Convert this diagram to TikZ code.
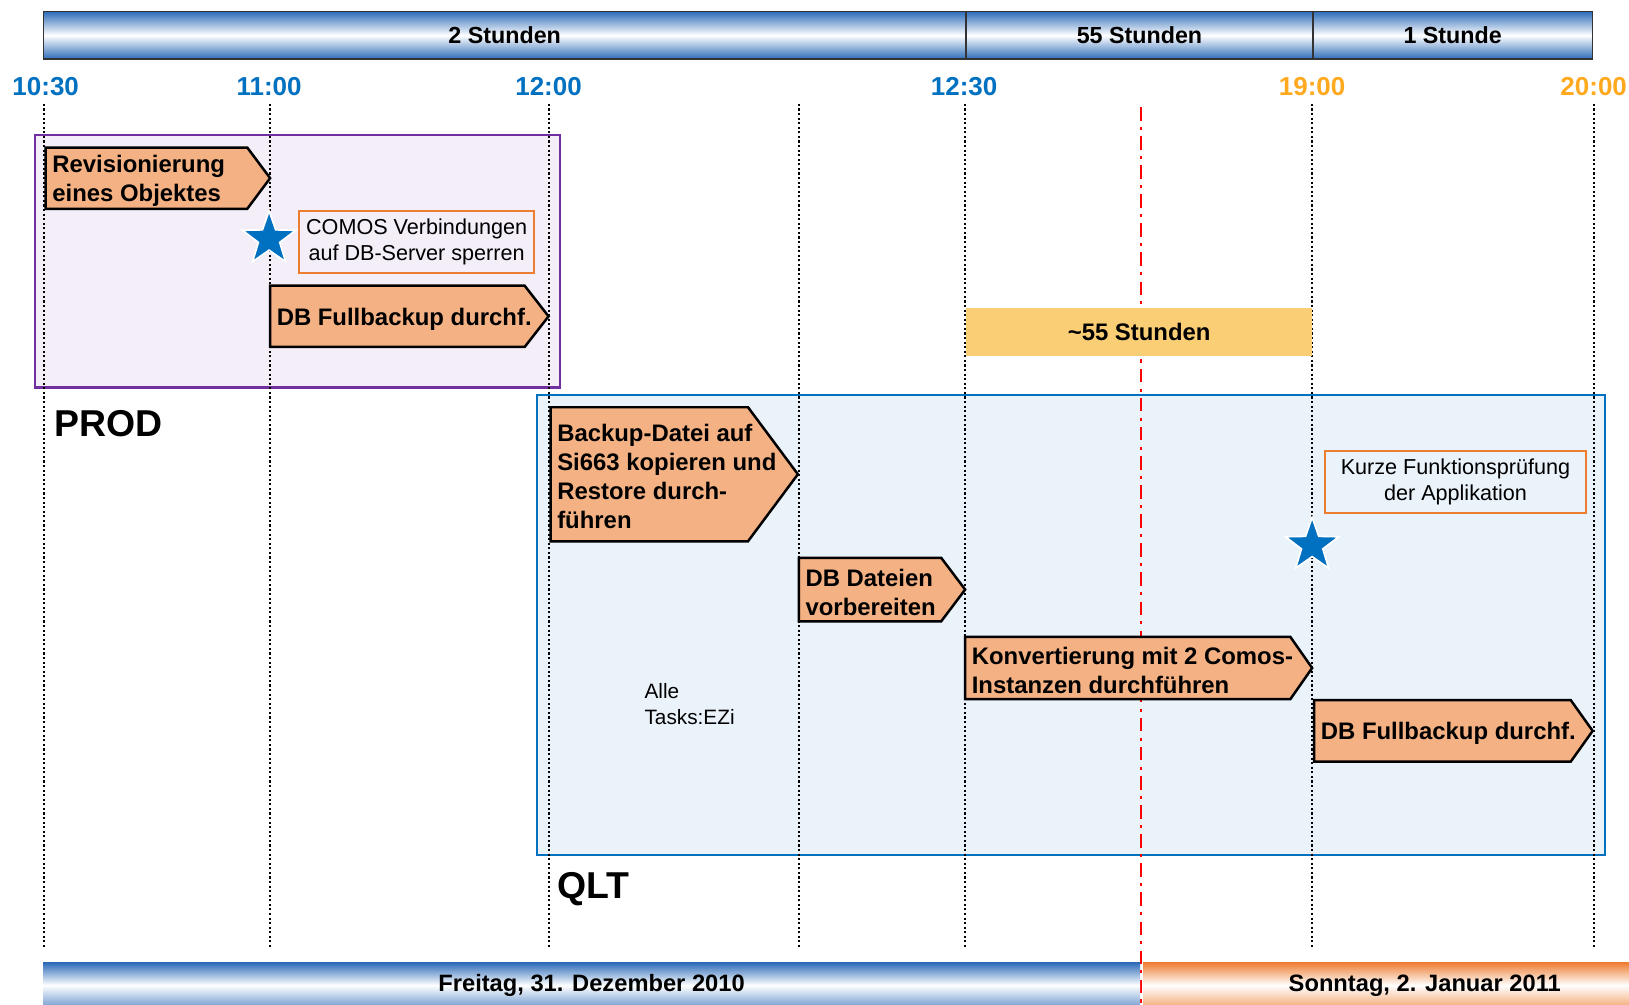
\documentclass[tikz,border=0pt]{standalone}
\usepackage{fontspec}
\setmainfont{Liberation Sans}
\usetikzlibrary{positioning,shapes.geometric}
\definecolor{timeblue}{HTML}{0070C0}
\definecolor{timeorange}{HTML}{FFA91F}
\definecolor{barblue}{HTML}{2C6BB8}
\definecolor{barorange}{HTML}{EE7E32}
\definecolor{taskfill}{HTML}{F4B183}
\definecolor{noteorange}{HTML}{ED7D31}
\definecolor{prodline}{HTML}{7030A0}
\definecolor{prodfill}{HTML}{F3EEF8}
\definecolor{qltfill}{HTML}{EAF2FA}
\definecolor{waitfill}{HTML}{FACE75}
\begin{document}
\begin{tikzpicture}[x=0.5pt,y=-0.5pt,
  barcell/.style={draw=black!80, line width=0.8pt, top color=barblue,
    bottom color=barblue, middle color=white, minimum height=23pt,
    inner sep=0pt, font=\bfseries\fontsize{11.2}{13}\selectfont},
  daybar/.style={anchor=north west, minimum height=22pt, inner sep=0pt,
    font=\bfseries\fontsize{11.4}{13}\selectfont},
  timelabel/.style={text=timeblue, inner sep=0pt,
    font=\bfseries\fontsize{12.5}{14}\selectfont},
  timeline/.style={dash pattern=on 1pt off 1.2pt, line width=1pt},
  task/.style={draw=black, line width=1.2pt, fill=taskfill},
  tasktext/.style={anchor=west, align=left, inner xsep=3pt, inner ysep=0pt,
    yshift=-1.2pt, font=\bfseries\fontsize{11.5}{14}\selectfont},
  note/.style={draw=noteorange, line width=1pt, align=center, inner sep=0pt,
    font=\fontsize{10.4}{12.5}\selectfont},
  milestone/.style={star, star points=5, star point ratio=2.5, fill=timeblue,
    draw=white, line width=0.8pt, minimum size=27pt, inner sep=0pt},
  env/.style={anchor=west, inner sep=0pt, font=\bfseries\fontsize{18}{20}\selectfont}]
  \useasboundingbox (0,0) rectangle (1568,967);

  % environments
  \draw[prodline, line width=1pt, fill=prodfill] (34,130) rectangle (539,373);
  \draw[timeblue, line width=1pt, fill=qltfill] (517,380) rectangle (1545,823);

  % time grid
  \foreach \x in {42,260,528,769,929,1263,1534}
    \draw[timeline] (\x,100) -- (\x,913);
  \draw[red, line width=1pt, dash pattern=on 6.5pt off 3pt on 1.5pt off 3pt]
    (1098,103) -- (1098,967);

  % duration bar
  \node[barcell, minimum width=444pt, anchor=west] (span1) at (41,34) {2 Stunden};
  \node[barcell, minimum width=167pt, right=-0.8pt of span1] (span2) {55 Stunden};
  \node[barcell, minimum width=134.5pt, right=-0.8pt of span2] (span3) {1 Stunde};

  \node[timelabel] (t1030) at (44,83) {10:30};
  \node[timelabel] (t1100) at (259,83) {11:00};
  \node[timelabel] (t1200) at (528,83) {12:00};
  \node[timelabel] (t1230) at (928,83) {12:30};
  \node[timelabel, text=timeorange] (t1900) at (1263,83) {19:00};
  \node[timelabel, text=timeorange] (t2000) at (1534,83) {20:00};

  % PROD
  \draw[task] (44,142) -- (238,142) -- (260,171.5) -- (238,201) -- (44,201) -- cycle;
  \node[tasktext] (revision) at (44,171.5) {Revisionierung\\eines Objektes};
  \node[milestone] (lock) at (259,230) {};
  \node[note, minimum width=113pt, minimum height=30pt] (comos) at (401,233)
    {COMOS Verbindungen\\auf DB-Server sperren};
  \draw[task] (260,275) -- (505,275) -- (528,304.5) -- (505,334) -- (260,334) -- cycle;
  \node[tasktext] (backup1) at (260,304.5) {DB Fullbackup durchf.};
  \node[env] (prod) at (52,408) {PROD};

  % waiting time
  \node[fill=waitfill, minimum width=166.5pt, minimum height=23.5pt, inner sep=0pt,
    font=\bfseries\fontsize{11.5}{13}\selectfont] (wait) at (1096.5,319.5)
    {\textasciitilde 55 Stunden};

  % QLT
  \draw[task] (530,392) -- (720,392) -- (768,456.5) -- (720,521) -- (530,521) -- cycle;
  \node[tasktext] (restore) at (530,456.5)
    {Backup-Datei auf\\Si663 kopieren und\\Restore durch-\\führen};
  \draw[task] (769,537) -- (906,537) -- (929,567.5) -- (906,598) -- (769,598) -- cycle;
  \node[tasktext] (files) at (769,567.5) {DB Dateien\\vorbereiten};
  \draw[task] (929,613) -- (1242,613) -- (1263,643) -- (1242,673) -- (929,673) -- cycle;
  \node[tasktext] (convert) at (929,643)
    {Konvertierung mit 2 Comos-\\Instanzen durchführen};
  \draw[task] (1265,674) -- (1512,674) -- (1533,703.5) -- (1512,733) -- (1265,733) -- cycle;
  \node[tasktext] (backup2) at (1265,703.5) {DB Fullbackup durchf.};
  \node[note, minimum width=126pt, minimum height=29.5pt] (check) at (1401,464)
    {Kurze Funktionsprüfung\\der Applikation};
  \node[milestone] (release) at (1263,525) {};
  \node[anchor=west, align=left, inner sep=0pt, font=\fontsize{10}{12.5}\selectfont]
    (owner) at (620,678) {Alle\\Tasks:EZi};
  \node[env] (qlt) at (536,856) {QLT};

  % days
  \node[daybar, top color=barblue, bottom color=barblue!70, middle color=white,
    minimum width=528pt] (friday) at (41,926) {Freitag, 31. Dezember 2010};
  \node[daybar, top color=barorange, bottom color=barorange!70, middle color=white,
    minimum width=271pt] (sunday) at (1100,926) {Sonntag, 2. Januar 2011};
\end{tikzpicture}
\end{document}
